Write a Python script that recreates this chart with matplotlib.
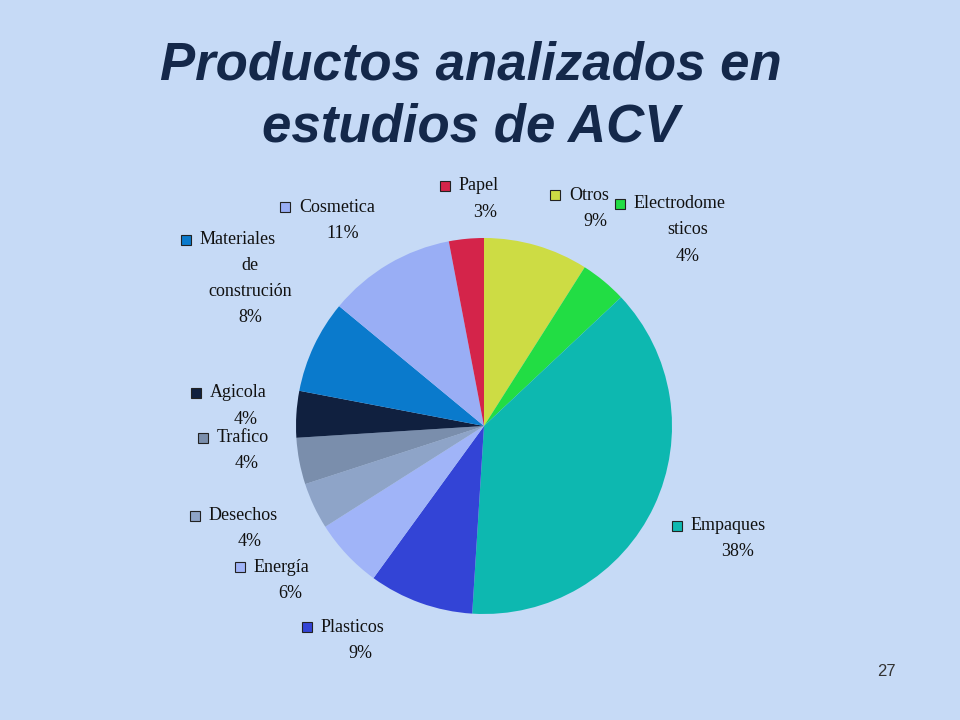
import matplotlib.pyplot as plt
from matplotlib.patches import Rectangle

# slices clockwise from 12 o'clock
names = ['Otros', 'Electrodomesticos', 'Empaques', 'Plasticos', 'Energía', 'Desechos',
         'Trafico', 'Agicola', 'Materiales de construción', 'Cosmetica', 'Papel']
values = [9, 4, 38, 9, 6, 4, 4, 4, 8, 11, 3]
colors = ['#cddc44', '#22dd44', '#0db8b0', '#3344d6', '#a0b4f8', '#8ea4c8',
          '#7a8eac', '#10203f', '#0a7acc', '#99aef5', '#d4244a']

label_lines = {
    'Papel': ['Papel', '3%'],
    'Otros': ['Otros', '9%'],
    'Electrodomesticos': ['Electrodome', 'sticos', '4%'],
    'Cosmetica': ['Cosmetica', '11%'],
    'Materiales de construción': ['Materiales', 'de', 'construción', '8%'],
    'Agicola': ['Agicola', '4%'],
    'Trafico': ['Trafico', '4%'],
    'Desechos': ['Desechos', '4%'],
    'Energía': ['Energía', '6%'],
    'Plasticos': ['Plasticos', '9%'],
    'Empaques': ['Empaques', '38%'],
}
# square (x, y) and centre x of following lines, in pixels
label_pos = {
    'Papel': (445, 186, 485),
    'Otros': (555, 195, 595),
    'Electrodomesticos': (620, 204, 688),
    'Cosmetica': (285, 207, 343),
    'Materiales de construción': (186, 240, 250),
    'Agicola': (196, 393, 246),
    'Trafico': (203, 438, 247),
    'Desechos': (195, 516, 250),
    'Energía': (240, 567, 290),
    'Plasticos': (307, 627, 360),
    'Empaques': (677, 526, 738),
}

W, H = 960, 720
bg = '#c6daf6'
fig = plt.figure(figsize=(9.6, 7.2), dpi=100, facecolor=bg)

ax = fig.add_axes([296 / W, 1 - 614 / H, 376 / W, 376 / H])
ax.pie(values, colors=colors, startangle=90, counterclock=False,
       wedgeprops=dict(edgecolor='none'))
ax.set_xlim(-1, 1)
ax.set_ylim(-1, 1)
ax.set_aspect('equal')

for txt, y in [('Productos analizados en', 65), ('estudios de ACV', 127)]:
    fig.text(0.49, 1 - y / H, txt, ha='center', va='center',
             fontsize=38, fontweight='bold', style='italic', color='#14284a',
             family='Liberation Sans')

fs = 13
lh = 26
for name, col in zip(names, colors):
    sx, sy, cx = label_pos[name]
    lines = label_lines[name]
    fig.add_artist(Rectangle(((sx - 5) / W, 1 - (sy + 5) / H), 10 / W, 10 / H,
                             transform=fig.transFigure, facecolor=col,
                             edgecolor='#222222', linewidth=0.8))
    fig.text((sx + 14) / W, 1 - sy / H, lines[0], ha='left', va='center',
             fontsize=fs, family='Liberation Serif', color='#111111')
    for i, ln in enumerate(lines[1:], start=1):
        fig.text(cx / W, 1 - (sy + i * lh) / H, ln, ha='center', va='center',
                 fontsize=fs, family='Liberation Serif', color='#111111')

fig.text(886 / W, 1 - 672 / H, '27', ha='center', va='center', fontsize=12,
         family=['Liberation Sans', 'DejaVu Sans'], color='#333333')

fig.savefig('out.png', dpi=100, facecolor=bg)
